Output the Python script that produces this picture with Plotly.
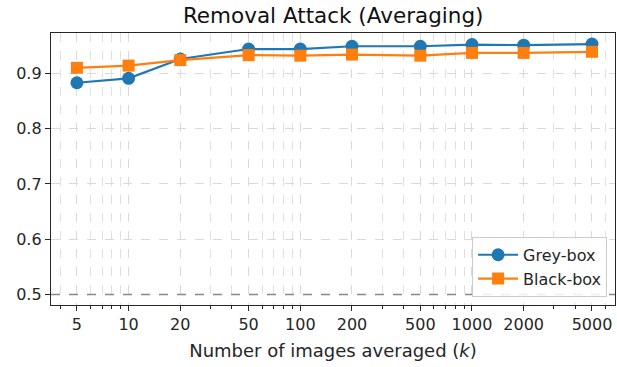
import plotly.graph_objects as go

k_values = [5, 10, 20, 50, 100, 200, 500, 1000, 2000, 5000]
grey_box = [0.883, 0.891, 0.926, 0.944, 0.944, 0.949, 0.949, 0.952, 0.951, 0.953]
black_box = [0.910, 0.914, 0.924, 0.933, 0.932, 0.934, 0.932, 0.937, 0.937, 0.939]
tick_labels = ["5", "10", "20", "50", "100", "200", "500", "1000", "2000", "5000"]
y_ticks = [0.5, 0.6, 0.7, 0.8, 0.9]

fig = go.Figure()
fig.add_trace(go.Scatter(x=k_values, y=grey_box, mode="lines+markers", name="Grey-box",
                         line=dict(color="#1f77b4", width=2.2),
                         marker=dict(symbol="circle", size=13, color="#1f77b4")))
fig.add_trace(go.Scatter(x=k_values, y=black_box, mode="lines+markers", name="Black-box",
                         line=dict(color="#ff7f0e", width=2.2),
                         marker=dict(symbol="square", size=12, color="#ff7f0e")))

fig.add_shape(type="line", xref="paper", x0=0, x1=1, yref="y", y0=0.5, y1=0.5,
              line=dict(color="#888888", width=1.5, dash="dash"), layer="above")

font = "DejaVu Sans, Arial, sans-serif"
axis_common = dict(
    ticks="outside", ticklen=5, tickwidth=1.2, tickcolor="#262626",
    showline=True, linecolor="#262626", linewidth=1.4, mirror=True,
    showgrid=True, gridcolor="#d9d9d9", griddash="dash", gridwidth=0.8,
    zeroline=False, tickfont=dict(size=16, color="#262626"),
)
fig.update_layout(
    width=617, height=367,
    margin=dict(l=51, r=2, t=33, b=62),
    paper_bgcolor="white", plot_bgcolor="white",
    font=dict(family=font, size=16, color="#262626"),
    title=dict(text="Removal Attack (Averaging)", x=0.54, xanchor="center",
               y=1 - 15.5 / 367, yanchor="middle",
               font=dict(size=21.5, color="#111")),
    showlegend=True,
    legend=dict(x=0.986, y=0.03, xanchor="right", yanchor="bottom",
                bgcolor="rgba(255,255,255,0.85)", bordercolor="#cccccc", borderwidth=1,
                font=dict(size=16, color="#262626"), itemwidth=40, tracegroupgap=2),
    xaxis=dict(type="log", range=[0.548, 3.833],
               tickvals=k_values, ticktext=tick_labels,
               minor=dict(showgrid=True, gridcolor="#e0e0e0", griddash="dash", gridwidth=0.8,
                          ticks="outside", ticklen=3, tickcolor="#262626", dtick="D1"),
               title=dict(text="Number of images averaged (<i>k</i>)",
                          font=dict(size=18, color="#262626"), standoff=10),
               **axis_common),
    yaxis=dict(range=[0.481, 0.973], tickvals=y_ticks,
               ticktext=[f"{v:.1f}" for v in y_ticks],
               **axis_common),
)

fig.write_html("out.html", config={"displayModeBar": False},
               post_script="document.body.style.margin='0';")
